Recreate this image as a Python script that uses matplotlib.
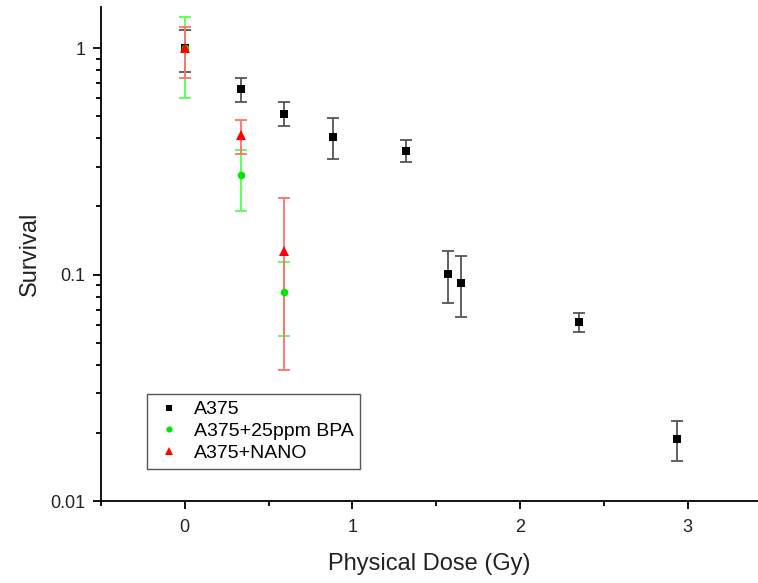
import matplotlib.pyplot as plt
from matplotlib.lines import Line2D
from matplotlib.ticker import LogLocator, FixedFormatter, FixedLocator, NullFormatter, MultipleLocator

plt.rcParams['font.family'] = ['Liberation Sans', 'DejaVu Sans']

# A375 control
dose_a375 = [0.0, 0.333, 0.59, 0.883, 1.321, 1.570, 1.650, 2.351, 2.937]
surv_a375 = [1.0, 0.657, 0.513, 0.404, 0.352, 0.1005, 0.092, 0.0615, 0.0188]
hi_a375 = [1.20, 0.739, 0.579, 0.493, 0.393, 0.127, 0.121, 0.068, 0.0225]
lo_a375 = [0.785, 0.579, 0.451, 0.324, 0.315, 0.075, 0.0647, 0.0557, 0.015]

# A375 + 25ppm BPA
dose_bpa = [0.0, 0.333, 0.59]
surv_bpa = [1.0, 0.274, 0.084]
hi_bpa = [1.37, 0.355, 0.114]
lo_bpa = [0.60, 0.191, 0.0533]

# A375 + NANO
dose_nano = [0.0, 0.333, 0.59]
surv_nano = [1.0, 0.413, 0.127]
hi_nano = [1.24, 0.484, 0.217]
lo_nano = [0.74, 0.340, 0.0379]


def yerr(v, lo, hi):
    return [[a - b for a, b in zip(v, lo)], [c - a for a, c in zip(v, hi)]]


fig = plt.figure(figsize=(7.58, 5.83), dpi=100)
ax = fig.add_axes([101 / 758, 1 - 501 / 583, 1 - 101 / 758, (501 - 7) / 583])

series = [
    (dose_a375, surv_a375, lo_a375, hi_a375, 's', 'black', '#555555', 5.5, 'A375'),
    (dose_bpa, surv_bpa, lo_bpa, hi_bpa, 'o', '#00e600', '#55ff55', 5.5, 'A375+25ppm BPA'),
    (dose_nano, surv_nano, lo_nano, hi_nano, '^', 'red', '#ff7070', 6.5, 'A375+NANO'),
]
handles = []
for x, y, lo, hi, mk, col, ecol, ms, lab in series:
    eb = ax.errorbar(x, y, yerr=yerr(y, lo, hi), fmt=mk, color=col, ecolor=ecol,
                     markersize=ms, elinewidth=1.3, capsize=4.5, capthick=1.3)
    eb[0].set_markeredgewidth(0)
    eb[0].set_zorder(3)
    handles.append(Line2D([], [], linestyle='none', marker=mk, color=col,
                          markersize=ms * 0.8, markeredgewidth=0, label=lab))

ax.set_yscale('log')
ax.set_ylim(0.01, 1.52)
ax.set_xlim(-0.5, 3.42)

ax.xaxis.set_major_locator(MultipleLocator(1))
ax.xaxis.set_minor_locator(MultipleLocator(0.5))
ax.yaxis.set_major_locator(FixedLocator([0.01, 0.1, 1]))
ax.yaxis.set_major_formatter(FixedFormatter(['0.01', '0.1', '1']))
ax.yaxis.set_minor_locator(LogLocator(base=10, subs=range(2, 10)))
ax.yaxis.set_minor_formatter(NullFormatter())

ax.spines['top'].set_visible(False)
ax.spines['right'].set_visible(False)
ax.spines['left'].set_linewidth(1.3)
ax.spines['bottom'].set_linewidth(1.3)
ax.tick_params(which='major', direction='out', length=6, width=1.3, labelsize=13,
               pad=5, labelcolor='#222222')
ax.tick_params(which='minor', direction='out', length=3.5, width=1.3)
ax.tick_params(axis='x', which='major', pad=7)

ax.set_xlabel('Physical Dose (Gy)', fontsize=17, labelpad=12, color='#222222')
ax.set_ylabel('Survival', fontsize=17, color='#222222')
ax.yaxis.set_label_coords(-0.091, 0.5)

leg = ax.legend(handles=handles, loc='lower left', bbox_to_anchor=(0.07, 0.065),
                borderaxespad=0, fontsize=14, fancybox=False, edgecolor='#555555',
                framealpha=1, handlelength=1.6, handletextpad=0.45, labelspacing=0.22,
                borderpad=0.35)
leg.get_frame().set_linewidth(1.0)

fig.savefig('out.png', dpi=100)
